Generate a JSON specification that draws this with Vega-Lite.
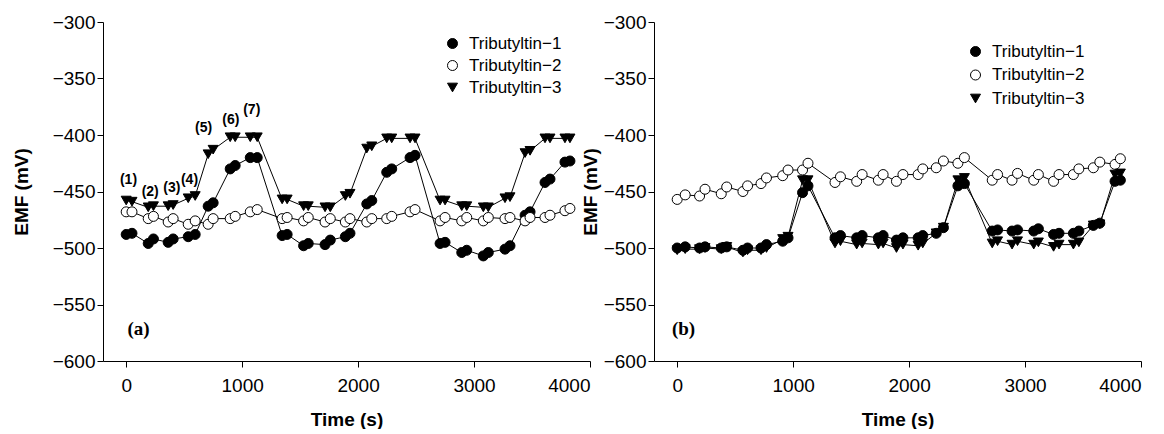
{
  "$schema": "https://vega.github.io/schema/vega-lite/v6.json",
  "background": "white",
  "padding": {"left": 12, "top": 13, "right": 0, "bottom": 0},
  "config": {
    "view": {"stroke": null},
    "font": "Liberation Sans",
    "axis": {"grid": false, "domainColor": "black", "tickColor": "black", "labelColor": "black", "titleColor": "black", "labelFont": "Liberation Sans", "titleFont": "Liberation Sans", "labelFontSize": 19, "titleFontSize": 19, "titleFontWeight": "bold", "tickSize": 6, "domainWidth": 1, "tickWidth": 1},
    "axisY": {"labelPadding": 2},
    "axisX": {"labelPadding": 9, "titlePadding": 15, "format": "d"},
    "legend": {"title": null, "orient": "none", "labelFont": "Liberation Sans", "labelFontSize": 17, "labelColor": "black", "symbolSize": 100, "symbolStrokeColor": "black", "symbolStrokeWidth": 1, "symbolOpacity": 1, "labelOffset": 8, "padding": 0}
  },
  "datasets": {
    "panelA": [
      {"series":"Tributyltin−1","time":0,"emf":-488},{"series":"Tributyltin−1","time":50,"emf":-487},{"series":"Tributyltin−1","time":190,"emf":-496},{"series":"Tributyltin−1","time":235,"emf":-492},{"series":"Tributyltin−1","time":362,"emf":-495},{"series":"Tributyltin−1","time":405,"emf":-492},{"series":"Tributyltin−1","time":535,"emf":-490},{"series":"Tributyltin−1","time":595,"emf":-488},{"series":"Tributyltin−1","time":707,"emf":-463},{"series":"Tributyltin−1","time":750,"emf":-460},{"series":"Tributyltin−1","time":897,"emf":-430},{"series":"Tributyltin−1","time":940,"emf":-427},{"series":"Tributyltin−1","time":1070,"emf":-420},{"series":"Tributyltin−1","time":1130,"emf":-420},{"series":"Tributyltin−1","time":1345,"emf":-489},{"series":"Tributyltin−1","time":1388,"emf":-488},{"series":"Tributyltin−1","time":1530,"emf":-498},{"series":"Tributyltin−1","time":1570,"emf":-496},{"series":"Tributyltin−1","time":1715,"emf":-497},{"series":"Tributyltin−1","time":1760,"emf":-493},{"series":"Tributyltin−1","time":1890,"emf":-490},{"series":"Tributyltin−1","time":1930,"emf":-487},{"series":"Tributyltin−1","time":2075,"emf":-461},{"series":"Tributyltin−1","time":2118,"emf":-458},{"series":"Tributyltin−1","time":2247,"emf":-433},{"series":"Tributyltin−1","time":2290,"emf":-430},{"series":"Tributyltin−1","time":2448,"emf":-420},{"series":"Tributyltin−1","time":2491,"emf":-418},{"series":"Tributyltin−1","time":2707,"emf":-496},{"series":"Tributyltin−1","time":2750,"emf":-495},{"series":"Tributyltin−1","time":2894,"emf":-504},{"series":"Tributyltin−1","time":2937,"emf":-502},{"series":"Tributyltin−1","time":3080,"emf":-507},{"series":"Tributyltin−1","time":3123,"emf":-504},{"series":"Tributyltin−1","time":3267,"emf":-501},{"series":"Tributyltin−1","time":3310,"emf":-498},{"series":"Tributyltin−1","time":3440,"emf":-471},{"series":"Tributyltin−1","time":3483,"emf":-468},{"series":"Tributyltin−1","time":3612,"emf":-442},{"series":"Tributyltin−1","time":3655,"emf":-439},{"series":"Tributyltin−1","time":3784,"emf":-424},{"series":"Tributyltin−1","time":3827,"emf":-423},
      {"series":"Tributyltin−2","time":0,"emf":-468},{"series":"Tributyltin−2","time":50,"emf":-468},{"series":"Tributyltin−2","time":190,"emf":-474},{"series":"Tributyltin−2","time":235,"emf":-472},{"series":"Tributyltin−2","time":362,"emf":-477},{"series":"Tributyltin−2","time":405,"emf":-474},{"series":"Tributyltin−2","time":535,"emf":-479},{"series":"Tributyltin−2","time":595,"emf":-476},{"series":"Tributyltin−2","time":707,"emf":-479},{"series":"Tributyltin−2","time":750,"emf":-474},{"series":"Tributyltin−2","time":897,"emf":-474},{"series":"Tributyltin−2","time":940,"emf":-472},{"series":"Tributyltin−2","time":1070,"emf":-468},{"series":"Tributyltin−2","time":1130,"emf":-466},{"series":"Tributyltin−2","time":1345,"emf":-474},{"series":"Tributyltin−2","time":1388,"emf":-473},{"series":"Tributyltin−2","time":1530,"emf":-476},{"series":"Tributyltin−2","time":1570,"emf":-473},{"series":"Tributyltin−2","time":1715,"emf":-477},{"series":"Tributyltin−2","time":1760,"emf":-474},{"series":"Tributyltin−2","time":1890,"emf":-477},{"series":"Tributyltin−2","time":1930,"emf":-474},{"series":"Tributyltin−2","time":2075,"emf":-477},{"series":"Tributyltin−2","time":2118,"emf":-474},{"series":"Tributyltin−2","time":2247,"emf":-474},{"series":"Tributyltin−2","time":2290,"emf":-472},{"series":"Tributyltin−2","time":2448,"emf":-468},{"series":"Tributyltin−2","time":2491,"emf":-466},{"series":"Tributyltin−2","time":2707,"emf":-476},{"series":"Tributyltin−2","time":2750,"emf":-473},{"series":"Tributyltin−2","time":2894,"emf":-476},{"series":"Tributyltin−2","time":2937,"emf":-473},{"series":"Tributyltin−2","time":3080,"emf":-476},{"series":"Tributyltin−2","time":3123,"emf":-473},{"series":"Tributyltin−2","time":3267,"emf":-474},{"series":"Tributyltin−2","time":3310,"emf":-473},{"series":"Tributyltin−2","time":3440,"emf":-476},{"series":"Tributyltin−2","time":3483,"emf":-473},{"series":"Tributyltin−2","time":3612,"emf":-473},{"series":"Tributyltin−2","time":3655,"emf":-471},{"series":"Tributyltin−2","time":3784,"emf":-467},{"series":"Tributyltin−2","time":3827,"emf":-465},
      {"series":"Tributyltin−3","time":0,"emf":-458},{"series":"Tributyltin−3","time":50,"emf":-459},{"series":"Tributyltin−3","time":190,"emf":-464},{"series":"Tributyltin−3","time":235,"emf":-463},{"series":"Tributyltin−3","time":362,"emf":-463},{"series":"Tributyltin−3","time":405,"emf":-462},{"series":"Tributyltin−3","time":535,"emf":-456},{"series":"Tributyltin−3","time":595,"emf":-454},{"series":"Tributyltin−3","time":707,"emf":-417},{"series":"Tributyltin−3","time":750,"emf":-413},{"series":"Tributyltin−3","time":897,"emf":-402},{"series":"Tributyltin−3","time":940,"emf":-402},{"series":"Tributyltin−3","time":1070,"emf":-402},{"series":"Tributyltin−3","time":1130,"emf":-402},{"series":"Tributyltin−3","time":1345,"emf":-457},{"series":"Tributyltin−3","time":1388,"emf":-457},{"series":"Tributyltin−3","time":1530,"emf":-463},{"series":"Tributyltin−3","time":1570,"emf":-463},{"series":"Tributyltin−3","time":1715,"emf":-464},{"series":"Tributyltin−3","time":1760,"emf":-464},{"series":"Tributyltin−3","time":1890,"emf":-454},{"series":"Tributyltin−3","time":1930,"emf":-452},{"series":"Tributyltin−3","time":2075,"emf":-412},{"series":"Tributyltin−3","time":2118,"emf":-410},{"series":"Tributyltin−3","time":2247,"emf":-403},{"series":"Tributyltin−3","time":2290,"emf":-403},{"series":"Tributyltin−3","time":2448,"emf":-403},{"series":"Tributyltin−3","time":2491,"emf":-403},{"series":"Tributyltin−3","time":2707,"emf":-458},{"series":"Tributyltin−3","time":2750,"emf":-458},{"series":"Tributyltin−3","time":2894,"emf":-463},{"series":"Tributyltin−3","time":2937,"emf":-463},{"series":"Tributyltin−3","time":3080,"emf":-464},{"series":"Tributyltin−3","time":3123,"emf":-464},{"series":"Tributyltin−3","time":3267,"emf":-456},{"series":"Tributyltin−3","time":3310,"emf":-455},{"series":"Tributyltin−3","time":3440,"emf":-416},{"series":"Tributyltin−3","time":3483,"emf":-414},{"series":"Tributyltin−3","time":3612,"emf":-403},{"series":"Tributyltin−3","time":3655,"emf":-403},{"series":"Tributyltin−3","time":3784,"emf":-403},{"series":"Tributyltin−3","time":3827,"emf":-403}
    ],
    "panelB": [
      {"series":"Tributyltin−1","time":0,"emf":-500},{"series":"Tributyltin−1","time":69,"emf":-499},{"series":"Tributyltin−1","time":193,"emf":-500},{"series":"Tributyltin−1","time":240,"emf":-499},{"series":"Tributyltin−1","time":380,"emf":-500},{"series":"Tributyltin−1","time":427,"emf":-499},{"series":"Tributyltin−1","time":567,"emf":-502},{"series":"Tributyltin−1","time":607,"emf":-500},{"series":"Tributyltin−1","time":723,"emf":-500},{"series":"Tributyltin−1","time":770,"emf":-497},{"series":"Tributyltin−1","time":910,"emf":-494},{"series":"Tributyltin−1","time":956,"emf":-491},{"series":"Tributyltin−1","time":1081,"emf":-451},{"series":"Tributyltin−1","time":1128,"emf":-445},{"series":"Tributyltin−1","time":1361,"emf":-491},{"series":"Tributyltin−1","time":1408,"emf":-489},{"series":"Tributyltin−1","time":1548,"emf":-491},{"series":"Tributyltin−1","time":1595,"emf":-489},{"series":"Tributyltin−1","time":1735,"emf":-491},{"series":"Tributyltin−1","time":1776,"emf":-489},{"series":"Tributyltin−1","time":1891,"emf":-493},{"series":"Tributyltin−1","time":1947,"emf":-491},{"series":"Tributyltin−1","time":2078,"emf":-491},{"series":"Tributyltin−1","time":2118,"emf":-489},{"series":"Tributyltin−1","time":2234,"emf":-487},{"series":"Tributyltin−1","time":2296,"emf":-482},{"series":"Tributyltin−1","time":2421,"emf":-445},{"series":"Tributyltin−1","time":2477,"emf":-443},{"series":"Tributyltin−1","time":2717,"emf":-485},{"series":"Tributyltin−1","time":2763,"emf":-484},{"series":"Tributyltin−1","time":2888,"emf":-485},{"series":"Tributyltin−1","time":2935,"emf":-484},{"series":"Tributyltin−1","time":3075,"emf":-485},{"series":"Tributyltin−1","time":3115,"emf":-483},{"series":"Tributyltin−1","time":3246,"emf":-488},{"series":"Tributyltin−1","time":3293,"emf":-487},{"series":"Tributyltin−1","time":3417,"emf":-487},{"series":"Tributyltin−1","time":3464,"emf":-485},{"series":"Tributyltin−1","time":3589,"emf":-480},{"series":"Tributyltin−1","time":3645,"emf":-478},{"series":"Tributyltin−1","time":3776,"emf":-441},{"series":"Tributyltin−1","time":3822,"emf":-440},
      {"series":"Tributyltin−2","time":0,"emf":-457},{"series":"Tributyltin−2","time":69,"emf":-453},{"series":"Tributyltin−2","time":193,"emf":-454},{"series":"Tributyltin−2","time":240,"emf":-448},{"series":"Tributyltin−2","time":380,"emf":-452},{"series":"Tributyltin−2","time":427,"emf":-446},{"series":"Tributyltin−2","time":567,"emf":-450},{"series":"Tributyltin−2","time":607,"emf":-445},{"series":"Tributyltin−2","time":723,"emf":-443},{"series":"Tributyltin−2","time":770,"emf":-438},{"series":"Tributyltin−2","time":910,"emf":-436},{"series":"Tributyltin−2","time":956,"emf":-431},{"series":"Tributyltin−2","time":1081,"emf":-431},{"series":"Tributyltin−2","time":1128,"emf":-425},{"series":"Tributyltin−2","time":1361,"emf":-442},{"series":"Tributyltin−2","time":1408,"emf":-437},{"series":"Tributyltin−2","time":1548,"emf":-441},{"series":"Tributyltin−2","time":1595,"emf":-435},{"series":"Tributyltin−2","time":1735,"emf":-440},{"series":"Tributyltin−2","time":1776,"emf":-435},{"series":"Tributyltin−2","time":1891,"emf":-441},{"series":"Tributyltin−2","time":1947,"emf":-435},{"series":"Tributyltin−2","time":2078,"emf":-435},{"series":"Tributyltin−2","time":2118,"emf":-430},{"series":"Tributyltin−2","time":2234,"emf":-429},{"series":"Tributyltin−2","time":2296,"emf":-423},{"series":"Tributyltin−2","time":2421,"emf":-425},{"series":"Tributyltin−2","time":2477,"emf":-420},{"series":"Tributyltin−2","time":2717,"emf":-440},{"series":"Tributyltin−2","time":2763,"emf":-435},{"series":"Tributyltin−2","time":2888,"emf":-440},{"series":"Tributyltin−2","time":2935,"emf":-434},{"series":"Tributyltin−2","time":3075,"emf":-440},{"series":"Tributyltin−2","time":3115,"emf":-435},{"series":"Tributyltin−2","time":3246,"emf":-441},{"series":"Tributyltin−2","time":3293,"emf":-435},{"series":"Tributyltin−2","time":3417,"emf":-435},{"series":"Tributyltin−2","time":3464,"emf":-430},{"series":"Tributyltin−2","time":3589,"emf":-429},{"series":"Tributyltin−2","time":3645,"emf":-424},{"series":"Tributyltin−2","time":3776,"emf":-426},{"series":"Tributyltin−2","time":3822,"emf":-421},
      {"series":"Tributyltin−3","time":0,"emf":-502},{"series":"Tributyltin−3","time":69,"emf":-501},{"series":"Tributyltin−3","time":193,"emf":-501},{"series":"Tributyltin−3","time":240,"emf":-500},{"series":"Tributyltin−3","time":380,"emf":-501},{"series":"Tributyltin−3","time":427,"emf":-499},{"series":"Tributyltin−3","time":567,"emf":-504},{"series":"Tributyltin−3","time":607,"emf":-502},{"series":"Tributyltin−3","time":723,"emf":-502},{"series":"Tributyltin−3","time":770,"emf":-500},{"series":"Tributyltin−3","time":910,"emf":-492},{"series":"Tributyltin−3","time":956,"emf":-490},{"series":"Tributyltin−3","time":1081,"emf":-440},{"series":"Tributyltin−3","time":1128,"emf":-440},{"series":"Tributyltin−3","time":1361,"emf":-496},{"series":"Tributyltin−3","time":1408,"emf":-494},{"series":"Tributyltin−3","time":1548,"emf":-497},{"series":"Tributyltin−3","time":1595,"emf":-496},{"series":"Tributyltin−3","time":1735,"emf":-497},{"series":"Tributyltin−3","time":1776,"emf":-496},{"series":"Tributyltin−3","time":1891,"emf":-500},{"series":"Tributyltin−3","time":1947,"emf":-497},{"series":"Tributyltin−3","time":2078,"emf":-498},{"series":"Tributyltin−3","time":2118,"emf":-496},{"series":"Tributyltin−3","time":2234,"emf":-487},{"series":"Tributyltin−3","time":2296,"emf":-482},{"series":"Tributyltin−3","time":2421,"emf":-440},{"series":"Tributyltin−3","time":2477,"emf":-438},{"series":"Tributyltin−3","time":2717,"emf":-496},{"series":"Tributyltin−3","time":2763,"emf":-494},{"series":"Tributyltin−3","time":2888,"emf":-497},{"series":"Tributyltin−3","time":2935,"emf":-494},{"series":"Tributyltin−3","time":3075,"emf":-497},{"series":"Tributyltin−3","time":3115,"emf":-495},{"series":"Tributyltin−3","time":3246,"emf":-499},{"series":"Tributyltin−3","time":3293,"emf":-497},{"series":"Tributyltin−3","time":3417,"emf":-497},{"series":"Tributyltin−3","time":3464,"emf":-495},{"series":"Tributyltin−3","time":3589,"emf":-480},{"series":"Tributyltin−3","time":3645,"emf":-479},{"series":"Tributyltin−3","time":3776,"emf":-435},{"series":"Tributyltin−3","time":3822,"emf":-434}
    ],
    "notesA": [
      {"time":20,"emf":-440,"label":"(1)"},{"time":207,"emf":-450,"label":"(2)"},{"time":394,"emf":-447,"label":"(3)"},{"time":546,"emf":-440,"label":"(4)"},{"time":667,"emf":-394,"label":"(5)"},{"time":902,"emf":-387,"label":"(6)"},{"time":1083,"emf":-378,"label":"(7)"}
    ]
  },
  "resolve": {"scale": {"shape": "independent", "fill": "independent"}, "legend": {"shape": "independent", "fill": "independent"}},
  "bounds": "flush",
  "spacing": 64,
  "hconcat": [
    {
      "width": 487,
      "height": 339,
      "layer": [
        {
          "data": {"name": "panelA"},
          "mark": {"type": "line", "color": "black", "strokeWidth": 1},
          "encoding": {
            "x": {"field": "time", "type": "quantitative", "scale": {"domain": [-200, 4000], "nice": false}, "axis": {"values": [0, 1000, 2000, 3000, 4000], "title": "Time (s)"}},
            "y": {"field": "emf", "type": "quantitative", "scale": {"domain": [-600, -300], "nice": false}, "axis": {"values": [-600, -550, -500, -450, -400, -350, -300], "title": "EMF (mV)", "titlePadding": 21}},
            "detail": {"field": "series", "type": "nominal"}
          }
        },
        {
          "data": {"name": "panelA"},
          "mark": {"type": "point", "filled": true, "stroke": "black", "strokeWidth": 1, "size": 100, "opacity": 1},
          "encoding": {
            "x": {"field": "time", "type": "quantitative"},
            "y": {"field": "emf", "type": "quantitative"},
            "shape": {"field": "series", "type": "nominal", "scale": {"domain": ["Tributyltin−1", "Tributyltin−2", "Tributyltin−3"], "range": ["circle", "circle", "triangle-down"]}, "legend": {"legendX": 341, "legendY": 13, "rowPadding": 4, "encode": {"symbols": {"update": {"stroke": {"value": "black"}, "strokeWidth": {"value": 1}}}}}},
            "fill": {"field": "series", "type": "nominal", "scale": {"domain": ["Tributyltin−1", "Tributyltin−2", "Tributyltin−3"], "range": ["black", "white", "black"]}, "legend": {"legendX": 341, "legendY": 13, "rowPadding": 4, "encode": {"symbols": {"update": {"stroke": {"value": "black"}, "strokeWidth": {"value": 1}}}}}}
          }
        },
        {
          "data": {"name": "notesA"},
          "mark": {"type": "text", "font": "Liberation Sans", "fontWeight": "bold", "fontSize": 14, "color": "black", "baseline": "middle"},
          "encoding": {
            "x": {"field": "time", "type": "quantitative"},
            "y": {"field": "emf", "type": "quantitative"},
            "text": {"field": "label", "type": "nominal"}
          }
        },
        {
          "data": {"values": [{"time": 106, "emf": -572, "label": "(a)"}]},
          "mark": {"type": "text", "font": "Liberation Serif", "fontWeight": "bold", "fontSize": 19, "color": "black", "baseline": "middle"},
          "encoding": {
            "x": {"field": "time", "type": "quantitative"},
            "y": {"field": "emf", "type": "quantitative"},
            "text": {"field": "label", "type": "nominal"}
          }
        }
      ]
    },
    {
      "width": 487,
      "height": 339,
      "layer": [
        {
          "data": {"name": "panelB"},
          "mark": {"type": "line", "color": "black", "strokeWidth": 1},
          "encoding": {
            "x": {"field": "time", "type": "quantitative", "scale": {"domain": [-200, 4000], "nice": false}, "axis": {"values": [0, 1000, 2000, 3000, 4000], "title": "Time (s)"}},
            "y": {"field": "emf", "type": "quantitative", "scale": {"domain": [-600, -300], "nice": false}, "axis": {"values": [-600, -550, -500, -450, -400, -350, -300], "title": "EMF (mV)", "titlePadding": 3}},
            "detail": {"field": "series", "type": "nominal"}
          }
        },
        {
          "data": {"name": "panelB"},
          "mark": {"type": "point", "filled": true, "stroke": "black", "strokeWidth": 1, "size": 100, "opacity": 1},
          "encoding": {
            "x": {"field": "time", "type": "quantitative"},
            "y": {"field": "emf", "type": "quantitative"},
            "shape": {"field": "series", "type": "nominal", "scale": {"domain": ["Tributyltin−1", "Tributyltin−2", "Tributyltin−3"], "range": ["circle", "circle", "triangle-down"]}, "legend": {"legendX": 313, "legendY": 21, "rowPadding": 5.5, "encode": {"symbols": {"update": {"stroke": {"value": "black"}, "strokeWidth": {"value": 1}}}}}},
            "fill": {"field": "series", "type": "nominal", "scale": {"domain": ["Tributyltin−1", "Tributyltin−2", "Tributyltin−3"], "range": ["black", "white", "black"]}, "legend": {"legendX": 313, "legendY": 21, "rowPadding": 5.5, "encode": {"symbols": {"update": {"stroke": {"value": "black"}, "strokeWidth": {"value": 1}}}}}}
          }
        },
        {
          "data": {"values": [{"time": 55, "emf": -572, "label": "(b)"}]},
          "mark": {"type": "text", "font": "Liberation Serif", "fontWeight": "bold", "fontSize": 19, "color": "black", "baseline": "middle"},
          "encoding": {
            "x": {"field": "time", "type": "quantitative"},
            "y": {"field": "emf", "type": "quantitative"},
            "text": {"field": "label", "type": "nominal"}
          }
        }
      ]
    }
  ]
}
